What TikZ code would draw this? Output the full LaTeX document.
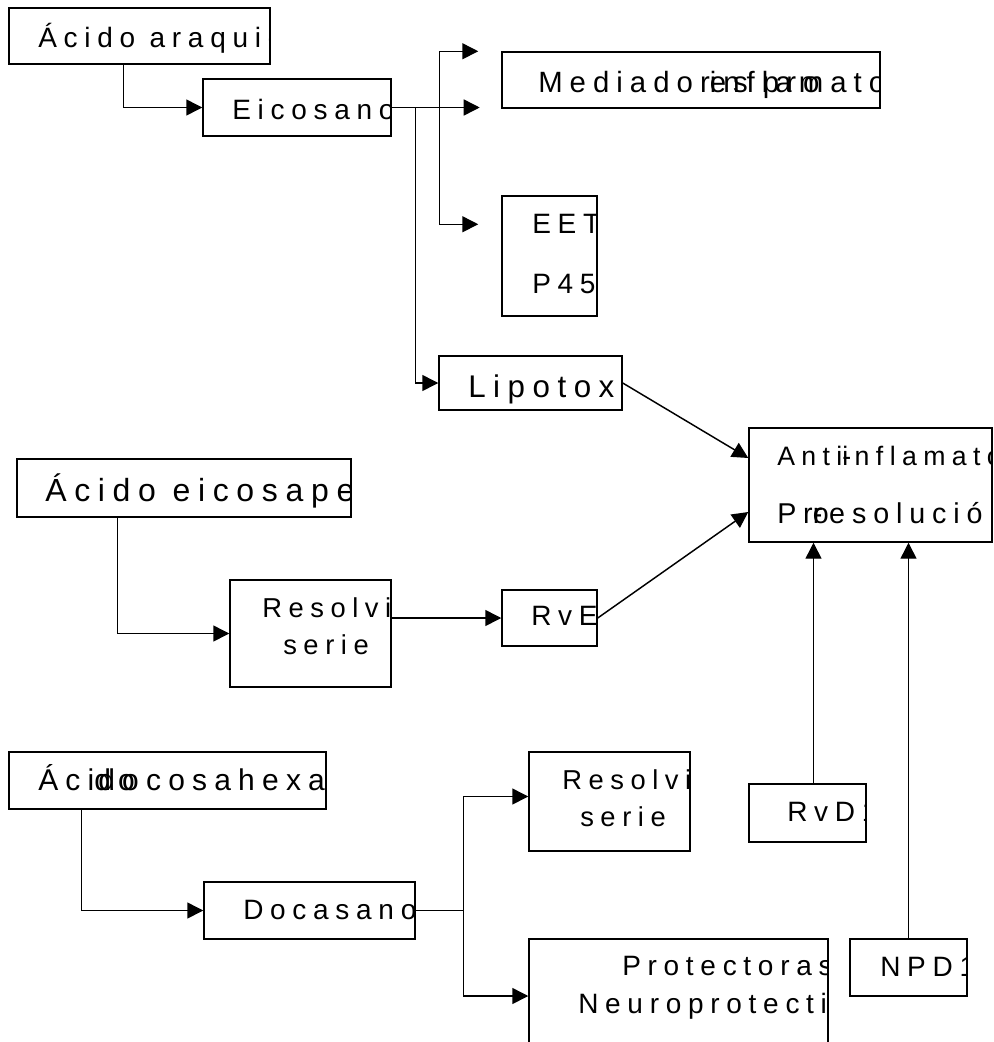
\documentclass[tikz,border=0pt]{standalone}
\usepackage{fontspec}
\usetikzlibrary{arrows.meta,calc,fit}
\newfontfamily\espaciada[LetterSpace=24]{Liberation Sans}

\tikzset{
  caja/.style={draw, line width=1.1pt, inner sep=0pt},
  cuerpo/.style={font=\espaciada\fontsize{#1}{#1}\selectfont},
  letra/.style={anchor=base west, inner sep=0pt, cuerpo=21},
  flecha/.style={line width=1.1pt, -{Triangle[length=12pt,width=12pt]}},
  linea/.style={line width=1.1pt}
}
% texto recortado en el borde de su caja
\newcommand{\rotulo}[5][]{%
  \begin{scope}
    \clip (#2.south west) rectangle (#2.north east);
    \node[letra,#1] (#3) at (#4) {#5};
  \end{scope}}

\begin{document}
\begin{tikzpicture}[x=0.75pt,y=-0.75pt]
\useasboundingbox (0,0) rectangle (994,1042);

%Cajas
\node[caja, fit={(9,8) (270,64)}] (ara) {};
\node[caja, fit={(203,79) (391,136)}] (eico) {};
\node[caja, fit={(502,52) (880,108)}] (med) {};
\node[caja, fit={(502,196) (597,316)}] (eet) {};
\node[caja, fit={(439,356) (622,410)}] (lipo) {};
\node[caja, fit={(749,428) (992,542)}] (anti) {};
\node[caja, fit={(17,459) (351,517)}] (eicp) {};
\node[caja, fit={(230,580) (391,687)}] (res1) {};
\node[caja, fit={(502,590) (597,646)}] (rve) {};
\node[caja, fit={(9,752) (326,809)}] (doc) {};
\node[caja, fit={(204,882) (415,939)}] (docs) {};
\node[caja, fit={(529,752) (690,851)}] (res2) {};
\node[caja, fit={(749,784) (866,842)}] (rvd) {};
\node[caja, fit={(850,939) (967,996)}] (npd) {};
\node[caja, fit={(529,939) (828,1053)}] (prot) {};

% Text Nodes
\rotulo{ara}{tara}{38,47}{Ácido araquidónico}
\rotulo{eico}{teico}{232,119}{Eicosanoides}
\rotulo[cuerpo=22]{med}{tmed}{538,92}{Mediador\rlap{es pro}inflamatorios}
\rotulo{eet}{teet}{532,233}{EET}
\rotulo{eet}{tpcu}{532,293}{P450}
\rotulo[cuerpo=23.5]{lipo}{tlipo}{468,397}{Lipotoxinas}
\rotulo[cuerpo=20]{anti}{tanti}{777,465}{Anti\rlap{-}inflamatorios}
\rotulo[cuerpo=21.5]{anti}{tpro}{777,523}{Pr\rlap{o}\rlap{-}resolución}
\rotulo[cuerpo=24]{eicp}{teicp}{45,501}{Ácido eicosapentaenoico}
\rotulo[cuerpo=20.5]{res1}{tres1}{262,617}{Resolvinas}
\rotulo[cuerpo=20.5]{res1}{tser1}{283,654}{serie}
\rotulo{rve}{trve}{531,625}{RvE1}
\rotulo[cuerpo=22.5]{doc}{tdoc}{38,790}{Áci\rlap{do}\kern3pt docosahexaenoico}
\rotulo{docs}{tdocs}{243,919}{Docasanoides}
\rotulo[cuerpo=20.5]{res2}{tres2}{562,789}{Resolvinas}
\rotulo[cuerpo=20.5]{res2}{tser2}{580,826}{serie}
\rotulo{rvd}{trvd}{787,821}{RvD1}
\rotulo{npd}{tnpd}{880,976}{NPD1}
\rotulo{prot}{tprot}{622,975}{Protectoras}
\rotulo{prot}{tneu}{578,1013}{Neuroprotectinas}

%Puntos de rama
\coordinate (ram1) at ($(eico.east)+(48,0)$);
\coordinate (ram2) at ($(eico.east)+(24,0)$);
\coordinate (fin1) at ($(med.north west)+(-23,0)$);
\coordinate (fin2) at ($(eico.east)+(88,0)$);
\coordinate (fin3) at ($(eet.north west)+(-23,29)$);
\coordinate (ram3) at ($(docs.east)+(48,0)$);
\coordinate (srvd) at ($(rvd.north)+(6,0)$);

%Flechas
\draw[flecha] ($(ara.south west)+(115,0)$) |- (eico.west);
\draw[flecha] (eico.east) -- (fin2);
\draw[flecha] (ram1) |- (fin1);
\draw[flecha] (ram1) |- (fin3);
\draw[flecha] (ram2) |- (lipo.west);
\draw[flecha] (lipo.east) -- ($(anti.west)+(0,-27)$);
\draw[flecha] ($(eicp.south west)+(101,0)$) |- (res1.west);
\draw[flecha] (res1.east |- rve.west) -- (rve.west);
\draw[flecha] (rve.east) -- ($(anti.west)+(0,27)$);
\draw[flecha] (srvd) -- (srvd |- anti.south);
\draw[flecha] (npd.north) -- (npd.north |- anti.south);
\draw[flecha] ($(doc.south west)+(73,0)$) |- (docs.west);
\draw[linea] (docs.east) -- (ram3);
\draw[flecha] (ram3) |- ($(res2.west)+(0,-5)$);
\draw[flecha] (ram3) |- (prot.west);

\end{tikzpicture}
\end{document}
